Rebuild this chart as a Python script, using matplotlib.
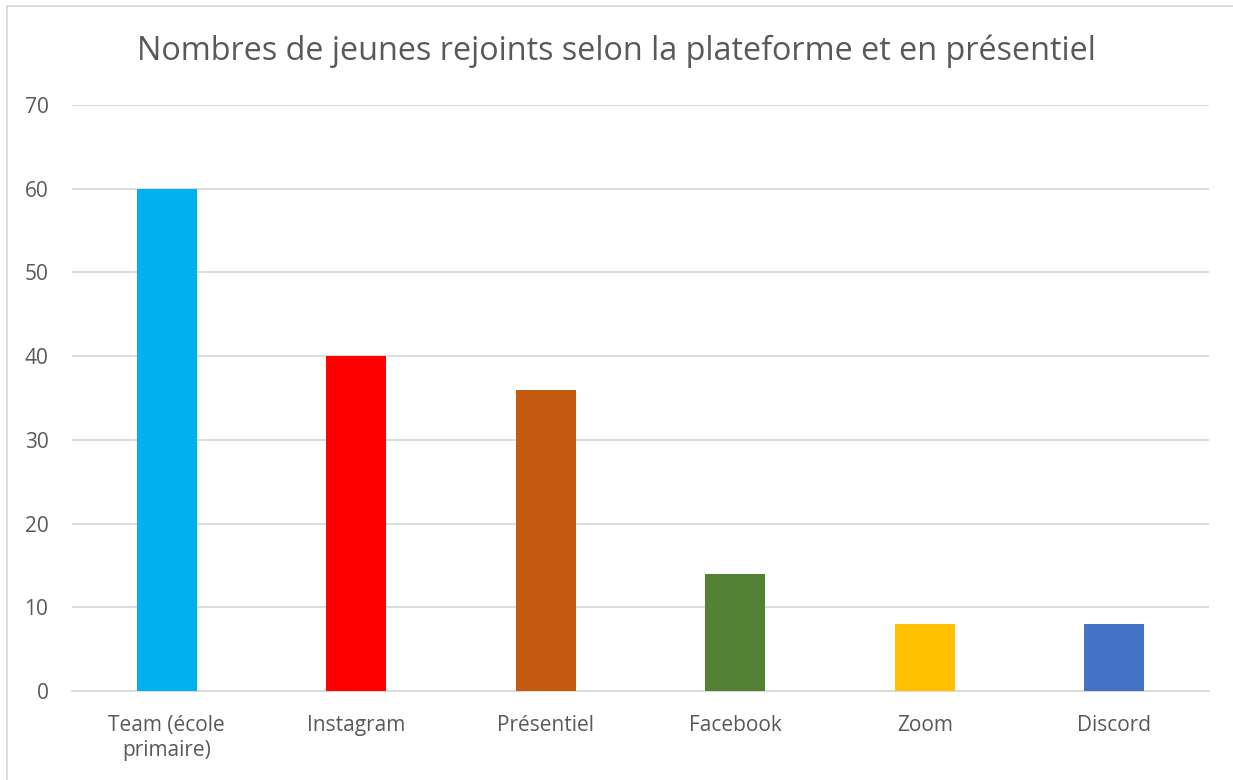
import matplotlib
matplotlib.use('Agg')
from matplotlib import pyplot as plt
from matplotlib.patches import Rectangle

# données
categories = ['Team (école\nprimaire)', 'Instagram', 'Présentiel', 'Facebook', 'Zoom', 'Discord']
values = [60, 40, 36, 14, 8, 8]
colors = ['#00b0f0', '#ff0000', '#c55a11', '#548235', '#ffc000', '#4472c4']
yticks = [0, 10, 20, 30, 40, 50, 60, 70]

plt.rcParams['font.family'] = ['Open Sans', 'DejaVu Sans']
text_color = '#595959'
grid_color = '#d9d9d9'

fig = plt.figure(figsize=(12.33, 7.80), dpi=100)
ax = fig.add_axes([0.0584, 0.1141, 0.9221, 0.7513])

x = range(len(categories))
ax.bar(x, values, width=0.317, color=colors, zorder=3)

ax.set_xlim(-0.5, len(categories) - 0.5)
ax.set_ylim(0, 70)
ax.set_yticks(yticks)
ax.set_xticks(list(x))
ax.set_xticklabels(categories, fontsize=15, color=text_color, linespacing=1.25)
ax.tick_params(axis='y', labelsize=15, labelcolor=text_color, length=0, pad=17)
ax.tick_params(axis='x', length=0, pad=17)
ax.grid(axis='y', color=grid_color, linewidth=1.3, zorder=0)
for side in ['left', 'right', 'top']:
    ax.spines[side].set_visible(False)
ax.spines['bottom'].set_color(grid_color)
ax.spines['bottom'].set_linewidth(1.3)

fig.text(0.5, 0.934, 'Nombres de jeunes rejoints selon la plateforme et en présentiel',
         ha='center', va='center', fontsize=23.3, color=text_color)

# cadre du graphique
fig.patches.append(Rectangle((7 / 1233, -0.01), 1.02, 1 - 6 / 780 + 0.01,
                             transform=fig.transFigure, fill=False,
                             edgecolor=grid_color, linewidth=1.3))

fig.savefig('out.png', dpi=100)
